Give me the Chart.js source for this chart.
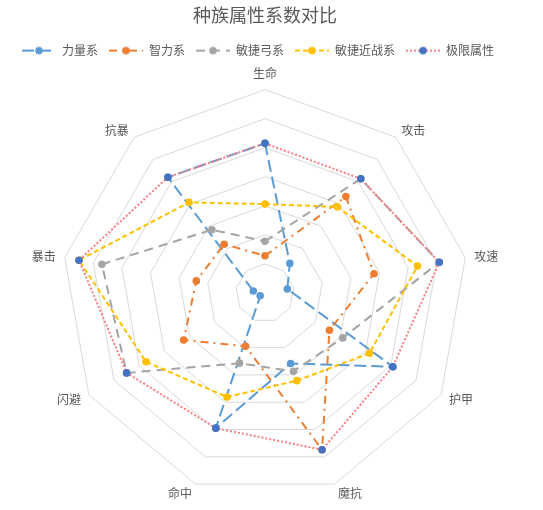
<!DOCTYPE html>
<html>
<head>
<meta charset="utf-8">
<script src="https://cdn.jsdelivr.net/npm/chart.js@4/dist/chart.umd.min.js"></script>
<style>
html,body{margin:0;padding:0;background:#fff;}
#wrap{width:543px;height:510px;position:relative;}
</style>
</head>
<body>
<div id="wrap"><canvas id="c"></canvas></div>
<script>
const categories = ['生命','攻击','攻速','护甲','魔抗','命中','闪避','暴击','抗暴'];
const seriesNames = ['力量系','智力系','敏捷弓系','敏捷近战系','极限属性'];
const strength   = [5.15, 1.33, 0.78, 5.08, 2.58, 4.95, 0.19, 0.41, 5.20];
const intellect  = [1.28, 4.33, 3.81, 2.56, 5.74, 1.95, 3.23, 2.40, 2.19];
const agiRanged  = [1.78, 5.13, 6.09, 3.09, 2.87, 2.57, 5.50, 5.70, 2.84];
const agiMelee   = [3.06, 3.87, 5.33, 4.15, 3.21, 3.81, 4.73, 6.50, 4.07];
const extreme    = [5.15, 5.13, 6.09, 5.08, 5.74, 4.95, 5.50, 6.50, 5.20];

const styles = [
  {line:'#5B9BD5', point:'#5B9BD5', dash:[12,5], order:5},
  {line:'#ED7D31', point:'#ED7D31', dash:[8,5,2,5], order:4},
  {line:'#A5A5A5', point:'#A5A5A5', dash:[9,6], order:3},
  {line:'#FFC000', point:'#FFC000', dash:[5,3], order:2},
  {line:'#FF7C80', point:'#4472C4', dash:[2,2], order:1}
];
const values = [strength, intellect, agiRanged, agiMelee, extreme];
// distance of each axis label from the outer ring
const labelGap = [16, 8.5, 9, 9, 10, 10, 9, 9, 8.5];

function legendIcon(s){
  const c = document.createElement('canvas');
  c.width = 34; c.height = 12;
  const x = c.getContext('2d');
  x.strokeStyle = s.line; x.lineWidth = 2; x.setLineDash(s.dash);
  x.beginPath(); x.moveTo(0,6); x.lineTo(34,6); x.stroke();
  x.setLineDash([]);
  x.fillStyle = s.point;
  x.beginPath(); x.arc(17,6,3.8,0,Math.PI*2); x.fill();
  return c;
}
const icons = styles.map(legendIcon);

const datasets = seriesNames.map((n,i)=>({
  label: n,
  data: values[i],
  borderColor: styles[i].line,
  backgroundColor: styles[i].point,
  pointBackgroundColor: styles[i].point,
  pointBorderColor: styles[i].point,
  pointRadius: 3.8,
  pointBorderWidth: 0,
  borderWidth: 2,
  borderDash: styles[i].dash,
  fill: false,
  tension: 0,
  order: styles[i].order
}));

const shiftLegend = {
  id: 'shiftLegend',
  afterLayout(chart) {
    if (chart.legend) { chart.legend.left -= 7; chart.legend.right -= 7; }
  }
};

const font = "'Noto Sans CJK SC', 'Noto Sans', sans-serif";
new Chart(document.getElementById('c'), {
  type: 'radar',
  data: { labels: categories, datasets },
  plugins: [shiftLegend],
  options: {
    responsive: true,
    maintainAspectRatio: false,
    animation: false,
    layout: { padding: { left: 0, right: 13, top: 0, bottom: 4 } },
    plugins: {
      title: {
        display: true, text: '种族属性系数对比',
        color: '#595959', font: { family: font, size: 18, weight: 'normal' },
        padding: { top: 4, bottom: 8 }
      },
      legend: {
        position: 'top',
        labels: {
          color: '#595959', font: { family: font, size: 12 },
          usePointStyle: true, pointStyleWidth: 34, padding: 11,
          sort: (a,b)=>a.datasetIndex-b.datasetIndex,
          generateLabels: (chart) => {
            const items = Chart.defaults.plugins.legend.labels.generateLabels(chart);
            items.forEach(it => { it.pointStyle = icons[it.datasetIndex]; });
            return items;
          }
        }
      },
      tooltip: { enabled: false }
    },
    scales: {
      r: {
        min: 0, max: 7,
        ticks: { display: false, stepSize: 1 },
        angleLines: { display: false },
        grid: { color: '#D9D9D9', lineWidth: 1 },
        pointLabels: {
          color: '#595959',
          font: { family: font, size: 12, lineHeight: 0 },
          padding: (ctx) => labelGap[ctx.index]
        }
      }
    }
  }
});
</script>
</body>
</html>
